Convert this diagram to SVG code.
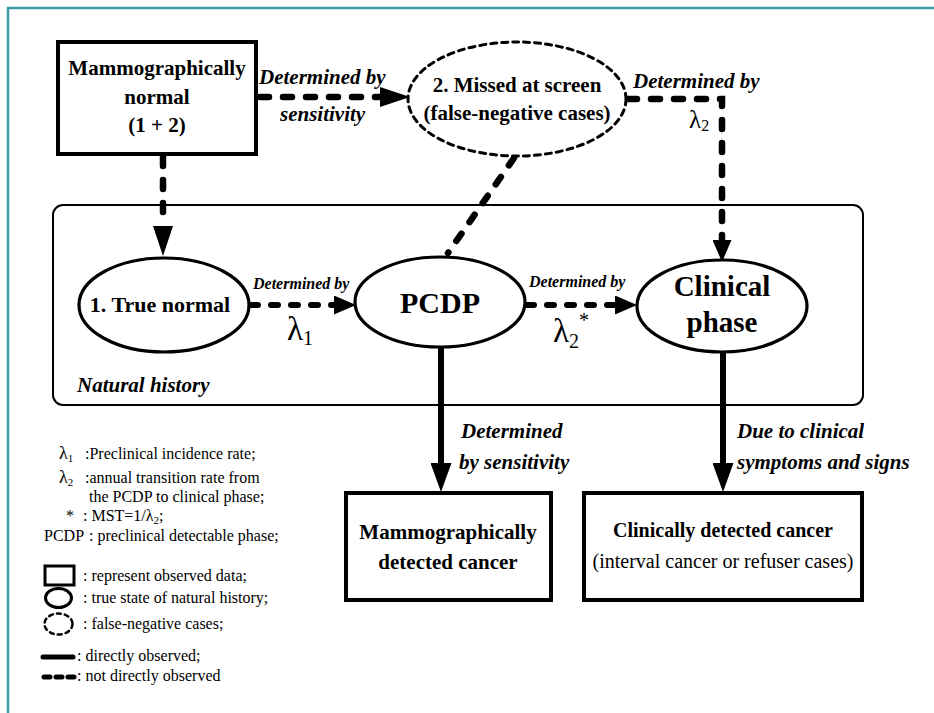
<svg xmlns="http://www.w3.org/2000/svg" width="934" height="713" viewBox="0 0 934 713" font-family="'Liberation Serif', 'Times New Roman', Times, 'DejaVu Serif', serif">
<style>
  text { font-family: "Liberation Serif", "Times New Roman", Times, "DejaVu Serif", serif; fill: #000; }
  .b { font-weight: 700; }
  .bi { font-weight: 700; font-style: italic; }
  .box { fill: #fff; stroke: #000; stroke-width: 4; }
  .ell { fill: #fff; stroke: #000; stroke-width: 3.2; }
  .dell { fill: #fff; stroke: #000; stroke-width: 3; stroke-dasharray: 6 5; stroke-linecap: round; }
  .dash { fill: none; stroke: #000; stroke-width: 6.5; stroke-linecap: round; stroke-dasharray: 9 14; }
  .dash2 { fill: none; stroke: #000; stroke-width: 6; stroke-linecap: round; stroke-dasharray: 7 13; }
  .solid { fill: none; stroke: #000; stroke-width: 6; }
</style>
<defs>
  <marker id="hLong" markerUnits="userSpaceOnUse" viewBox="0 0 30 20" markerWidth="30" markerHeight="20" refX="0" refY="10" orient="auto">
    <path d="M0,0 L30,10 L0,20 z" fill="#000"/>
  </marker>
  <marker id="hMid" markerUnits="userSpaceOnUse" viewBox="0 0 29 21" markerWidth="29" markerHeight="21" refX="0" refY="10.5" orient="auto">
    <path d="M0,0 L29,10.5 L0,21 z" fill="#000"/>
  </marker>
  <marker id="hShort" markerUnits="userSpaceOnUse" viewBox="0 0 22 19" markerWidth="22" markerHeight="19" refX="0" refY="9.5" orient="auto">
    <path d="M0,0 L22,9.5 L0,19 z" fill="#000"/>
  </marker>
</defs>

<rect width="934" height="713" fill="#fff"/>
<path d="M8,713 V8 H934" fill="none" stroke="#3a9aaa" stroke-width="2.5"/>

<g id="natural-history">
  <rect x="53" y="205" width="810" height="200" rx="10" fill="none" stroke="#000" stroke-width="2"/>
  <text x="77" y="392" class="bi" font-size="21">Natural history</text>
</g>

<g id="connectors">
  <path class="dash" d="M163,157 V226" marker-end="url(#hLong)"/>
  <path class="dash" d="M260,97 H380" marker-end="url(#hLong)"/>
  <path class="dash" d="M628,99 H722 V240" marker-end="url(#hShort)"/>
  <path class="dash" d="M514,158 L448,253"/>
  <path class="dash2" d="M251,305 H334" marker-end="url(#hShort)"/>
  <path class="dash2" d="M527,305 H615" marker-end="url(#hShort)"/>
  <path class="solid" d="M441,347 V463" marker-end="url(#hMid)"/>
  <path class="solid" d="M723,352 V463" marker-end="url(#hMid)"/>

  <text x="259" y="84" class="bi" font-size="21">Determined by</text>
  <text x="280" y="121" class="bi" font-size="21">sensitivity</text>
  <text x="633" y="88" class="bi" font-size="21">Determined by</text>
  <text x="689" y="128" font-size="25">λ<tspan font-size="16" dy="3">2</tspan></text>

  <text x="253" y="289" class="bi" font-size="16">Determined by</text>
  <text x="287" y="340" font-size="33">λ<tspan font-size="20" dy="5">1</tspan></text>
  <text x="529" y="287" class="bi" font-size="16">Determined by</text>
  <text x="553" y="342" font-size="33">λ<tspan font-size="20" dy="6">2</tspan><tspan font-size="20" dy="-21">*</tspan></text>

  <text x="461" y="438" class="bi" font-size="21">Determined</text>
  <text x="459" y="469" class="bi" font-size="21">by sensitivity</text>
  <text x="737" y="438" class="bi" font-size="21">Due to clinical</text>
  <text x="737" y="469" class="bi" font-size="21">symptoms and signs</text>
</g>

<g id="mammo-normal">
  <rect class="box" x="58" y="42" width="198" height="112"/>
  <text x="157" y="75" class="b" font-size="21" text-anchor="middle">Mammographically</text>
  <text x="157" y="104" class="b" font-size="21" text-anchor="middle">normal</text>
  <text x="157" y="132" class="b" font-size="21" text-anchor="middle">(1 + 2)</text>
</g>

<g id="missed">
  <ellipse class="dell" cx="517" cy="99" rx="109" ry="57"/>
  <text x="517" y="92" class="b" font-size="21" text-anchor="middle">2. Missed at screen</text>
  <text x="517" y="120" class="b" font-size="21" text-anchor="middle">(false-negative cases)</text>
</g>

<g id="true-normal">
  <ellipse class="ell" cx="164" cy="305" rx="85" ry="47"/>
  <text x="160" y="312" class="b" font-size="22" text-anchor="middle">1. True normal</text>
</g>

<g id="pcdp">
  <ellipse class="ell" cx="440" cy="302" rx="85" ry="45"/>
  <text x="440" y="313" class="b" font-size="30" text-anchor="middle">PCDP</text>
</g>

<g id="clinical-phase">
  <ellipse class="ell" cx="722" cy="306" rx="85" ry="46"/>
  <text x="722" y="296" class="b" font-size="29" text-anchor="middle">Clinical</text>
  <text x="722" y="332" class="b" font-size="29" text-anchor="middle">phase</text>
</g>

<g id="mammo-detected">
  <rect class="box" x="346" y="493" width="205" height="107"/>
  <text x="448" y="539" class="b" font-size="21" text-anchor="middle">Mammographically</text>
  <text x="448" y="569" class="b" font-size="21" text-anchor="middle">detected cancer</text>
</g>

<g id="clinically-detected">
  <rect class="box" x="584" y="493" width="278" height="107"/>
  <text x="723" y="537" class="b" font-size="20" text-anchor="middle">Clinically detected cancer</text>
  <text x="723" y="568" font-size="20" text-anchor="middle">(interval cancer or refuser cases)</text>
</g>

<g id="legend">
  <text x="59" y="459" font-size="18">λ<tspan font-size="11" dy="3">1</tspan></text>
  <text x="85" y="459" font-size="16">:Preclinical incidence rate;</text>
  <text x="59" y="483" font-size="18">λ<tspan font-size="11" dy="3">2</tspan></text>
  <text x="85" y="483" font-size="16">:annual transition rate from</text>
  <text x="89" y="502" font-size="16">the PCDP to clinical phase;</text>
  <text x="66" y="521" font-size="16">*</text>
  <text x="83" y="521" font-size="16">: MST=1/λ<tspan font-size="11" dy="3">2</tspan><tspan dy="-3">;</tspan></text>
  <text x="44" y="541" font-size="16">PCDP</text>
  <text x="89" y="541" font-size="16">: preclinical detectable phase;</text>
  <rect x="45" y="566" width="29" height="19" fill="none" stroke="#000" stroke-width="3"/>
  <text x="83" y="581" font-size="16">: represent observed data;</text>
  <ellipse cx="58.5" cy="598" rx="13" ry="9.5" fill="none" stroke="#000" stroke-width="3"/>
  <text x="83" y="603" font-size="16">: true state of natural history;</text>
  <ellipse cx="58.5" cy="624" rx="14" ry="10.5" fill="none" stroke="#000" stroke-width="2.5" stroke-dasharray="4 4" stroke-linecap="round"/>
  <text x="83" y="629" font-size="16">: false-negative cases;</text>
  <line x1="43" y1="657" x2="73" y2="657" stroke="#000" stroke-width="5" stroke-linecap="round"/>
  <text x="77" y="661" font-size="16">: directly observed;</text>
  <line x1="44" y1="677" x2="75" y2="677" stroke="#000" stroke-width="5" stroke-linecap="round" stroke-dasharray="6 6"/>
  <text x="77" y="681" font-size="16">: not directly observed</text>
</g>
</svg>
